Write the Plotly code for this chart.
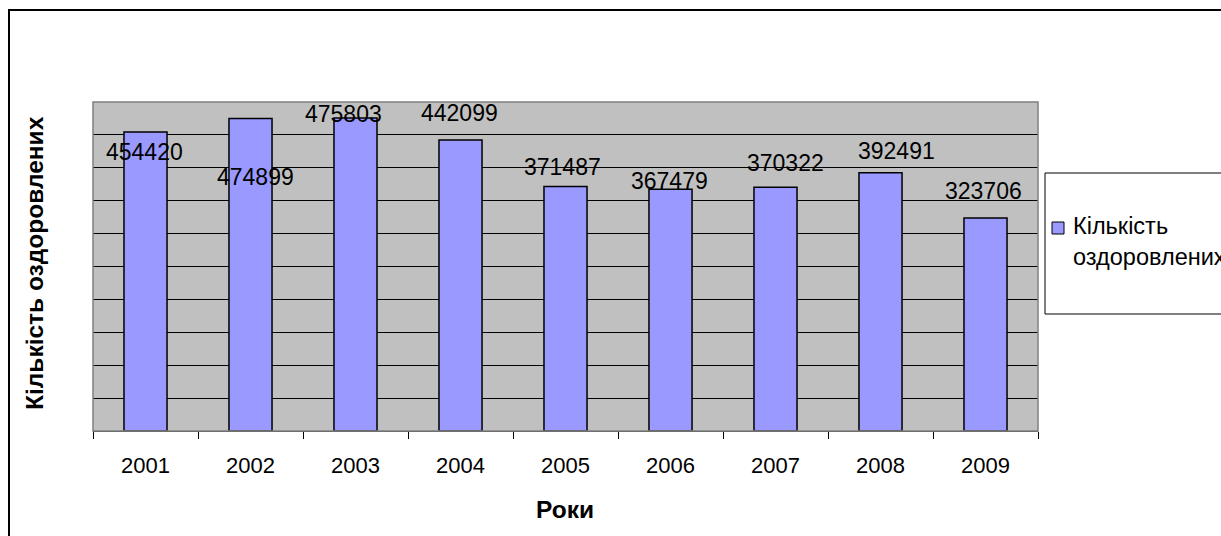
import plotly.graph_objects as go

years = ["2001", "2002", "2003", "2004", "2005", "2006", "2007", "2008", "2009"]
values = [454420, 474899, 475803, 442099, 371487, 367479, 370322, 392491, 323706]
series_name = "Кількість оздоровлених"
x_title = "Роки"
y_title = "Кількість оздоровлених"

# label placement offsets (pixels), purely presentational
label_dx = [-1, 4.5, -12.5, -1.5, -3, -1.5, 9.5, 15.5, -2]
label_dy = [-20, -58.5, 3.9, 27.1, 19.6, 8.2, 24.3, 21.7, 27]

FONT = "Liberation Sans, Arial, sans-serif"
W, H = 1221, 536
L, R, T, B = 93, 183, 102, 105
PW = W - L - R
PH = H - T - B


def px(x):
    return (x - L) / PW


def py(y):
    return (H - B - y) / PH


fig = go.Figure()
fig.add_trace(go.Bar(
    x=years, y=values, name=series_name,
    marker=dict(color="#9999FF", line=dict(color="black", width=1.5)),
    showlegend=False,
))

annotations = []
for i, (v, dx, dy) in enumerate(zip(values, label_dx, label_dy)):
    annotations.append(dict(
        x=i, y=v, xref="x", yref="y", text=str(v), showarrow=False,
        xshift=dx, yshift=dy, xanchor="center", yanchor="middle",
        font=dict(family=FONT, size=23, color="black"),
    ))

annotations.append(dict(
    x=px(34.5), y=py(263.5), xref="paper", yref="paper", text="<b>%s</b>" % y_title,
    textangle=-90, showarrow=False, xanchor="center", yanchor="middle",
    font=dict(family=FONT, size=24.5, color="black"),
))
annotations.append(dict(
    x=px(565), y=py(509), xref="paper", yref="paper", text="<b>%s</b>" % x_title,
    showarrow=False, xanchor="center", yanchor="middle",
    font=dict(family=FONT, size=24.5, color="black"),
))
annotations.append(dict(
    x=px(1071), y=py(241.5), xref="paper", yref="paper",
    text="Кількість<br>оздоровлених", align="left",
    showarrow=False, xanchor="left", yanchor="middle",
    font=dict(family=FONT, size=23.5, color="black"),
))

shapes = [
    # outer chart border
    dict(type="rect", xref="paper", yref="paper", x0=px(9), x1=px(1260),
         y0=py(560), y1=py(10), line=dict(color="black", width=2), layer="above"),
    # plot area frame
    dict(type="rect", xref="paper", yref="paper", x0=0, x1=1, y0=0, y1=1,
         line=dict(color="#808080", width=1.5), layer="above"),
    # legend box
    dict(type="rect", xref="paper", yref="paper", x0=px(1045), x1=px(1260),
         y0=py(314), y1=py(173), line=dict(color="black", width=1), layer="above"),
    # legend swatch
    dict(type="rect", xref="paper", yref="paper", x0=px(1052), x1=px(1064),
         y0=py(234), y1=py(222), fillcolor="#9999FF",
         line=dict(color="black", width=1), layer="above"),
]

fig.update_layout(
    width=W, height=H,
    margin=dict(l=L, r=R, t=T, b=B, pad=0),
    paper_bgcolor="white", plot_bgcolor="#C0C0C0",
    bargap=0.59,
    font=dict(family=FONT, size=22, color="black"),
    annotations=annotations, shapes=shapes,
    xaxis=dict(
        type="category", range=[-0.5, len(years) - 0.5],
        tickson="boundaries", ticks="outside", ticklen=7,
        tickcolor="black", tickwidth=1, showline=True, linecolor="#404040",
        linewidth=1, showgrid=False, tickfont=dict(family=FONT, size=22),
        tickangle=0, ticklabelstandoff=15,
    ),
    yaxis=dict(
        range=[0, 500000], dtick=50000, showgrid=True, gridcolor="black",
        gridwidth=1, showticklabels=False, ticks="", zeroline=False,
        showline=False,
    ),
)

fig.write_html(
    "out.html",
    config={"displayModeBar": False},
    post_script="document.body.style.margin='0';document.body.style.overflow='hidden';",
)
